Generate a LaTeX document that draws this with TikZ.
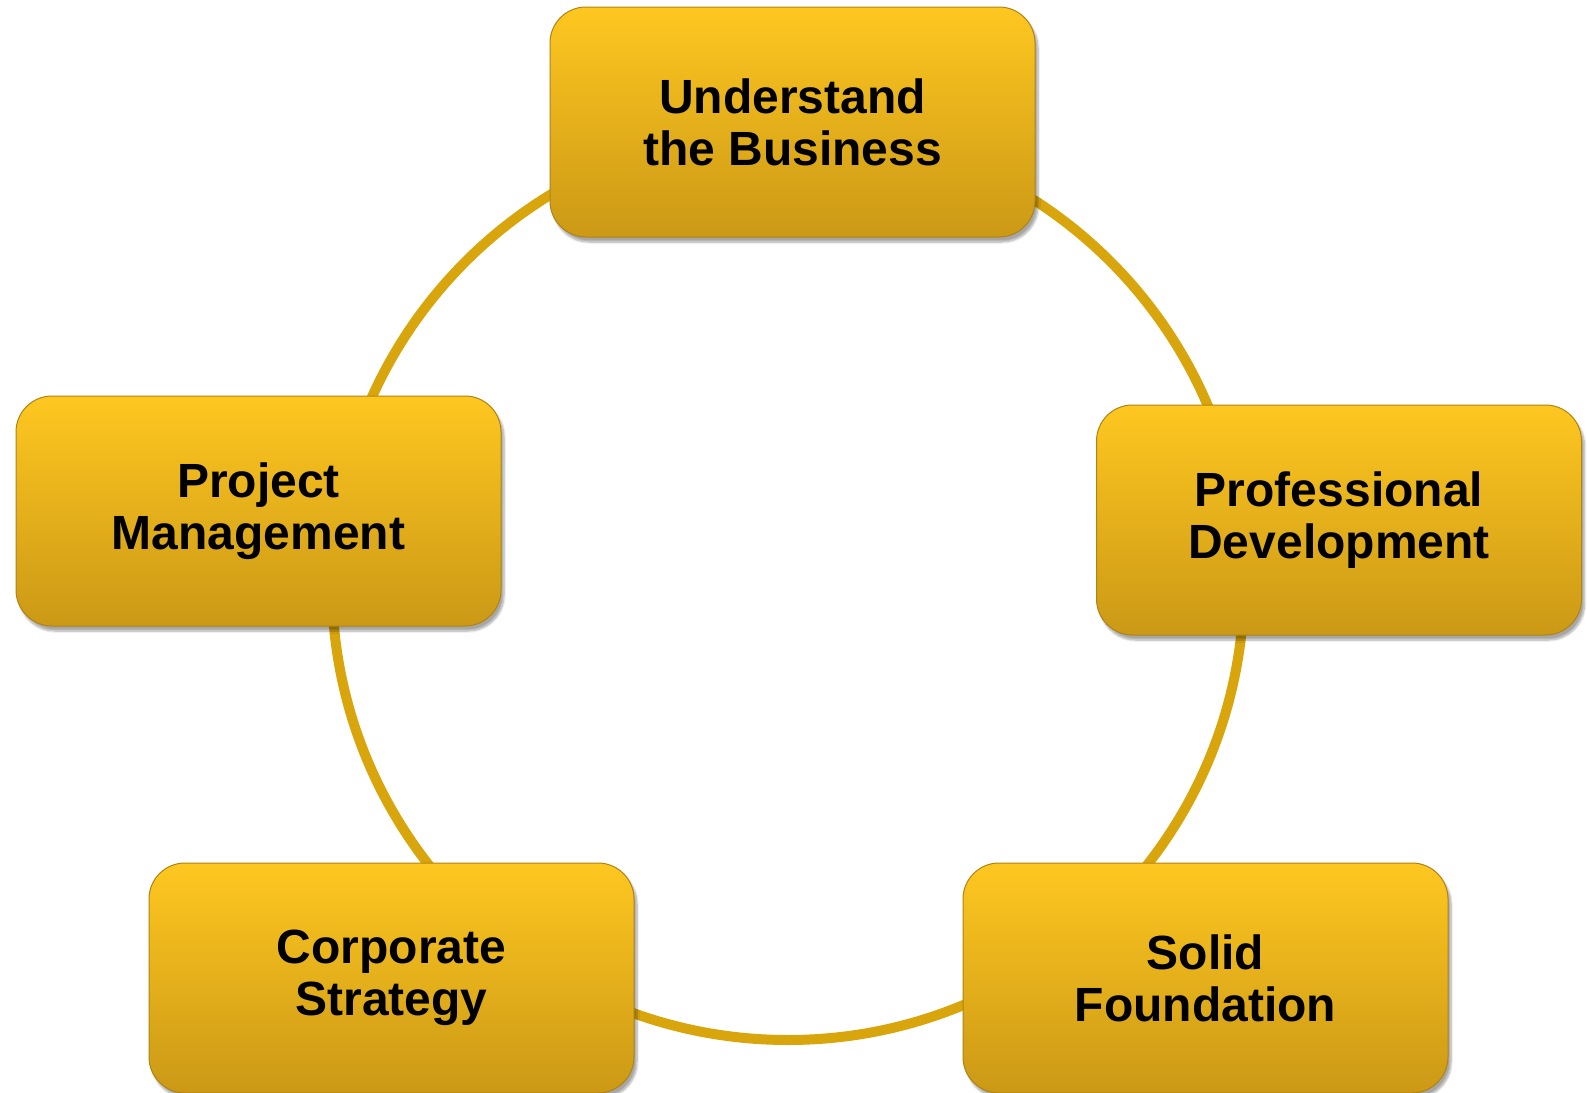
\documentclass[tikz,border=0pt]{standalone}
\usepackage{fontspec}
\setmainfont{Liberation Sans}
\usetikzlibrary{shadows,shadows.blur}
\definecolor{ringc}{HTML}{D9A50C}
\definecolor{boxtop}{HTML}{FEC720}
\definecolor{boxbot}{HTML}{CB9916}
\definecolor{boxedge}{HTML}{B08312}
\tikzset{
  topic/.style={rounded corners=36pt, minimum width=485pt, minimum height=230pt,
    top color=boxtop, bottom color=boxbot, draw=boxedge, line width=1pt,
    align=center, font=\fontsize{48}{52}\selectfont\bfseries,
    blur shadow={shadow xshift=3pt, shadow yshift=-5pt, shadow blur steps=8, shadow opacity=35}},
  ring/.style={draw=ringc, line width=10pt}
}
\begin{document}
\begin{tikzpicture}[x=1pt,y=-1pt]
\useasboundingbox (0,0) rectangle (1587,1092);
\coordinate (c) at (788,584);
\draw[ring] (c) circle (456pt);
\node[topic] (ub) at (792.5,122) {Understand\\the Business};
\node[topic] (pd) at (1339,520) {Professional\\Development};
\node[topic] (pm) at (258.5,511) {Project\\Management};
\node[topic] (cs) at (391.5,978) {Corporate\\Strategy};
\node[topic] (sf) at (1205.5,978) {Solid\\Foundation};
\end{tikzpicture}
\end{document}
